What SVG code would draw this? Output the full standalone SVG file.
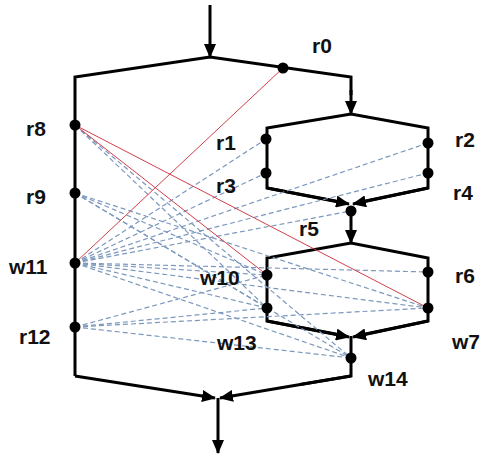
<svg xmlns="http://www.w3.org/2000/svg" width="484" height="456" viewBox="0 0 484 456">
<defs>
<marker id="ah" markerUnits="userSpaceOnUse" markerWidth="14" markerHeight="12" viewBox="0 0 14 12" refX="13" refY="6" orient="auto">
<path d="M0,0 L14,6 L0,12 Z" fill="#000"/>
</marker>
<style>
.flow{fill:none;stroke:#000;stroke-width:3;stroke-linejoin:miter}
.arr{marker-end:url(#ah)}
.dep{stroke:#7c98bd;stroke-width:1.2;stroke-dasharray:5 3;fill:none}
.conf{stroke:#d0404a;stroke-width:1;fill:none}
.dot{fill:#000}
text{font-family:"Liberation Sans",Arial,sans-serif;font-size:21px;font-weight:bold;fill:#111}
</style>
</defs>
<rect width="484" height="456" fill="#fff"/>
<g id="connectors">
<g id="flow">
<line class="flow arr" x1="210" y1="5" x2="210" y2="57"/>
<polyline class="flow" points="75,376 75,77 210,57 351,77 351,95"/>
<line class="flow arr" x1="351" y1="90" x2="351" y2="114"/>
<polyline class="flow" points="346,203 267,188 267,128 351,114 428,128 428,188 356,203"/>
<line class="flow arr" x1="267" y1="188" x2="349" y2="204"/>
<line class="flow arr" x1="428" y1="188" x2="353" y2="204"/>
<line class="flow arr" x1="351" y1="211" x2="351" y2="243"/>
<polyline class="flow" points="346,336 267,321 267,258 351,243 428,258 428,321 356,336"/>
<line class="flow arr" x1="267" y1="321" x2="349" y2="337"/>
<line class="flow arr" x1="428" y1="321" x2="353" y2="337"/>
<polyline class="flow" points="351,336 351,376 300,384.5"/>
<line class="flow arr" x1="351" y1="376" x2="220" y2="398"/>
<line class="flow arr" x1="75" y1="376" x2="215" y2="398"/>
<line class="flow arr" x1="218" y1="398" x2="218" y2="453"/>
</g>
<g id="dependencies">
<line class="dep" x1="75" y1="263" x2="266" y2="139"/>
<line class="dep" x1="75" y1="263" x2="428" y2="143"/>
<line class="dep" x1="75" y1="263" x2="266" y2="173"/>
<line class="dep" x1="75" y1="263" x2="428" y2="173"/>
<line class="dep" x1="75" y1="263" x2="351" y2="211"/>
<line class="dep" x1="75" y1="263" x2="428" y2="272"/>
<line class="dep" x1="75" y1="263" x2="428" y2="308"/>
<line class="dep" x1="75" y1="263" x2="267" y2="275"/>
<line class="dep" x1="75" y1="263" x2="267" y2="308"/>
<line class="dep" x1="75" y1="263" x2="351" y2="358"/>
<line class="dep" x1="75" y1="125" x2="267" y2="308"/>
<line class="dep" x1="75" y1="125" x2="351" y2="358"/>
<line class="dep" x1="75" y1="193" x2="267" y2="275"/>
<line class="dep" x1="75" y1="193" x2="428" y2="308"/>
<line class="dep" x1="75" y1="193" x2="267" y2="308"/>
<line class="dep" x1="75" y1="193" x2="351" y2="358"/>
<line class="dep" x1="75" y1="327" x2="267" y2="275"/>
<line class="dep" x1="75" y1="327" x2="428" y2="308"/>
<line class="dep" x1="75" y1="327" x2="267" y2="308"/>
<line class="dep" x1="75" y1="327" x2="351" y2="358"/>
<line class="conf" x1="283" y1="68" x2="75" y2="263"/>
<line class="conf" x1="75" y1="125" x2="428" y2="308"/>
<line class="conf" x1="75" y1="125" x2="267" y2="275"/>
</g>
</g>
<g id="r0"><circle class="dot" cx="283" cy="68" r="5.5"/><text x="312" y="53">r0</text></g>
<g id="r1"><circle class="dot" cx="266" cy="139" r="5.5"/><text x="216" y="150">r1</text></g>
<g id="r2"><circle class="dot" cx="428" cy="143" r="5.5"/><text x="455" y="147">r2</text></g>
<g id="r3"><circle class="dot" cx="266" cy="173" r="5.5"/><text x="216" y="193">r3</text></g>
<g id="r4"><circle class="dot" cx="428" cy="173" r="5.5"/><text x="453" y="200">r4</text></g>
<g id="r5"><circle class="dot" cx="351" cy="211" r="5.5"/><text x="299" y="236">r5</text></g>
<g id="r6"><circle class="dot" cx="428" cy="272" r="5.5"/><text x="455" y="283">r6</text></g>
<g id="w7"><circle class="dot" cx="428" cy="308" r="5.5"/><text x="452" y="349">w7</text></g>
<g id="r8"><circle class="dot" cx="75" cy="125" r="5.5"/><text x="26" y="136">r8</text></g>
<g id="r9"><circle class="dot" cx="75" cy="193" r="5.5"/><text x="26" y="204">r9</text></g>
<g id="w10"><circle class="dot" cx="267" cy="275" r="5.5"/><text x="200" y="285">w10</text></g>
<g id="w11"><circle class="dot" cx="75" cy="263" r="5.5"/><text x="9" y="274">w11</text></g>
<g id="r12"><circle class="dot" cx="75" cy="327" r="5.5"/><text x="19" y="344">r12</text></g>
<g id="w13"><circle class="dot" cx="267" cy="308" r="5.5"/><text x="217" y="350">w13</text></g>
<g id="w14"><circle class="dot" cx="351" cy="358" r="5.5"/><text x="368" y="386">w14</text></g>
</svg>
